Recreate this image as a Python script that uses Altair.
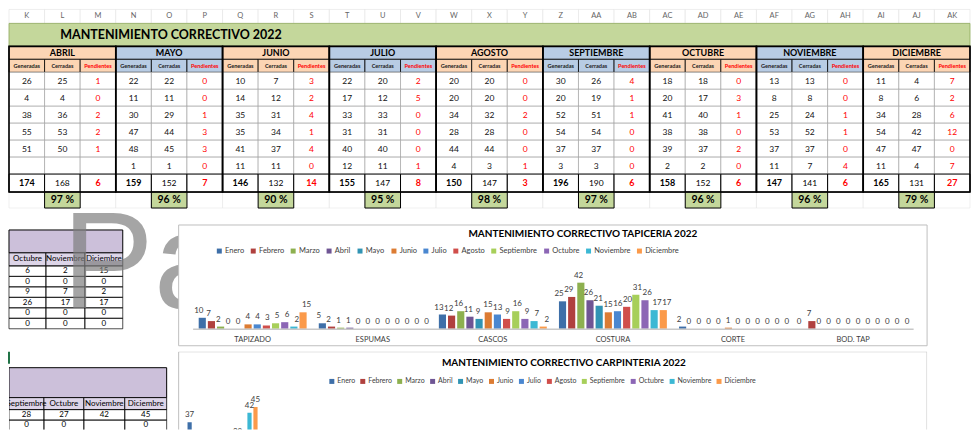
import altair as alt
import pandas as pd

FONT = "Lato"

# ---------------- data ----------------
col_letters = ["K", "L", "M", "N", "O", "P", "Q", "R", "S", "T", "U", "V", "W", "X",
               "Y", "Z", "AA", "AB", "AC", "AD", "AE", "AF", "AG", "AH", "AI", "AJ", "AK"]
table_title = "MANTENIMIENTO CORRECTIVO 2022"
table_months = ["ABRIL", "MAYO", "JUNIO", "JULIO", "AGOSTO", "SEPTIEMBRE",
                "OCTUBRE", "NOVIEMBRE", "DICIEMBRE"]
sub_headers = ["Generadas", "Cerradas", "Pendientes"]

generadas = [
    [26, 4, 38, 55, 51, None],
    [22, 11, 30, 47, 48, 1],
    [10, 14, 35, 35, 41, 11],
    [22, 17, 33, 31, 40, 12],
    [20, 20, 34, 28, 44, 4],
    [30, 20, 52, 54, 37, 3],
    [18, 20, 41, 38, 39, 2],
    [13, 8, 25, 53, 37, 11],
    [11, 8, 34, 54, 47, 11],
]
cerradas = [
    [25, 4, 36, 53, 50, None],
    [22, 11, 29, 44, 45, 1],
    [7, 12, 31, 34, 37, 11],
    [20, 12, 33, 31, 40, 11],
    [20, 20, 32, 28, 44, 3],
    [26, 19, 51, 54, 37, 3],
    [18, 17, 40, 38, 37, 2],
    [13, 8, 24, 52, 37, 7],
    [4, 6, 28, 42, 47, 4],
]
pendientes = [
    [1, 0, 2, 2, 1, None],
    [0, 0, 1, 3, 3, 0],
    [3, 2, 4, 1, 4, 0],
    [2, 5, 0, 0, 0, 1],
    [0, 0, 2, 0, 0, 1],
    [4, 1, 1, 0, 0, 0],
    [0, 3, 1, 0, 2, 0],
    [0, 0, 1, 1, 0, 4],
    [7, 2, 6, 12, 0, 7],
]
total_gen = [174, 159, 146, 155, 150, 196, 158, 147, 165]
total_cer = [168, 152, 132, 147, 147, 190, 152, 141, 131]
total_pen = [6, 7, 14, 8, 3, 6, 6, 6, 27]
pct_cerradas = ["97 %", "96 %", "90 %", "95 %", "98 %", "97 %", "96 %", "96 %", "79 %"]

chart_months = ["Enero", "Febrero", "Marzo", "Abril", "Mayo", "Junio", "Julio",
                "Agosto", "Septiembre", "Octubre", "Noviembre", "Diciembre"]
month_colors = ["#3e6fa8", "#b0413e", "#8db04f", "#6f5594", "#3194b4", "#dc7c33",
                "#4a87d0", "#d04e4b", "#a7cf5a", "#8c66b5", "#3cb8d4", "#fb9a4a"]

tap_title = "MANTENIMIENTO CORRECTIVO TAPICERIA 2022"
tap_categories = ["TAPIZADO", "ESPUMAS", "CASCOS", "COSTURA", "CORTE", "BOD. TAP"]
tapizado = [10, 7, 2, 0, 0, 4, 4, 3, 5, 6, 2, 15]
espumas = [5, 2, 1, 1, 0, 0, 0, 0, 0, 0, 0, 0]
cascos = [13, 12, 16, 11, 9, 15, 13, 9, 16, 9, 7, 2]
costura = [25, 29, 42, 26, 21, 15, 16, 20, 31, 26, 17, 17]
corte = [2, 0, 0, 0, 0, 1, 0, 0, 0, 0, 0, 0]
bod_tap = [0, 7, 0, 0, 0, 0, 0, 0, 0, 0, 0, 0]

carp_title = "MANTENIMIENTO CORRECTIVO CARPINTERIA 2022"
carp_months = ["Enero", "Marzo", "Septiembre", "Octubre", "Noviembre", "Diciembre"]
carp_values = [37, 26, 28, 27, 42, 45]

side1_months = ["Octubre", "Noviembre", "Diciembre"]
side1_rows = [[6, 2, 15], [0, 0, 0], [9, 7, 2], [26, 17, 17], [0, 0, 0], [0, 0, 0]]
side2_months = ["Septiembre", "Octubre", "Noviembre", "Diciembre"]
side2_rows = [[28, 27, 42, 45], [0, 0, None, 0], [7, 3, 2, 0]]

watermark_text = "Pa"

# ---------------- styles ----------------
PEACH = "#fcd5b4"
BLUE = "#b8cce4"
GREEN = "#c4d79b"
PURPLE = "#ccc0da"
PURPLE_L = "#ddd5e8"
RED = "#ff0000"


def fmt(v):
    return "" if v is None else str(v)


def grid_layers(rects, texts, xdom, xrange, ydom, yrange, clip=False):
    rdf = pd.DataFrame(rects)
    xs = alt.Scale(domain=xdom, range=xrange, nice=False, zero=False)
    ys = alt.Scale(domain=ydom, range=yrange, nice=False, zero=False)
    layers = [
        alt.Chart(rdf).mark_rect(clip=clip).encode(
            x=alt.X("x0:Q", scale=xs, axis=None), x2="x1:Q",
            y=alt.Y("y0:Q", scale=ys, axis=None), y2="y1:Q",
            fill=alt.Fill("fill:N", scale=None),
            stroke=alt.Stroke("stroke:N", scale=None),
            strokeWidth=alt.StrokeWidth("sw:Q", scale=None),
        )
    ]
    tdf = pd.DataFrame(texts)
    for bold in [False, True]:
        sub = tdf[tdf["bold"] == bold]
        if len(sub) == 0:
            continue
        layers.append(
            alt.Chart(sub).mark_text(font=FONT, fontWeight="bold" if bold else "normal",
                                     baseline="middle", align="center", clip=clip).encode(
                x=alt.X("xc:Q", scale=xs, axis=None),
                y=alt.Y("yc:Q", scale=ys, axis=None),
                text="t:N",
                color=alt.Color("color:N", scale=None),
                size=alt.Size("size:Q", scale=None),
            )
        )
    return layers


# ---------------- top table ----------------
TW, TH = 963, 210
row_heights = [14, 23, 13, 13, 17, 17, 17, 17, 17, 17, 18, 16]
edges = [0]
for hh in row_heights:
    edges.append(edges[-1] + hh)

rects, texts = [], []


def R(c0, c1, r0, r1, fill, stroke, sw):
    rects.append(dict(x0=c0, x1=c1, y0=edges[r0], y1=edges[r1], fill=fill, stroke=stroke, sw=sw))


def T(xc, r, t, color, size, bold):
    texts.append(dict(xc=xc, yc=(edges[r] + edges[r + 1]) / 2, t=t, color=color, size=size, bold=bold))


ncol = len(col_letters)
for i, L in enumerate(col_letters):
    R(i, i + 1, 0, 1, "#ffffff", "#e3e3e3", 0.6)
    T(i + 0.5, 0, L, "#666666", 7.5, False)
    R(i, i + 1, 11, 12, "#ffffff", "#e6e6e6", 0.6)
R(0, ncol, 1, 2, GREEN, "#8ea95a", 0.8)
T(4.55, 1, table_title, "#000000", 12.5, True)

outlines = []
for m, mname in enumerate(table_months):
    c = 3 * m
    fill = PEACH if m % 2 == 0 else BLUE
    R(c, c + 3, 2, 3, fill, "#000000", 1)
    T(c + 1.5, 2, mname, "#000000", 9, True)
    for k, sh in enumerate(sub_headers):
        R(c + k, c + k + 1, 3, 4, fill, "#000000", 0.8)
        T(c + k + 0.5, 3, sh, RED if k == 2 else "#1a1a1a", 5.6, True)
    for r in range(6):
        vals = [generadas[m][r], cerradas[m][r], pendientes[m][r]]
        for k, v in enumerate(vals):
            R(c + k, c + k + 1, 4 + r, 5 + r, "#ffffff", "#9a9a9a", 0.6)
            T(c + k + 0.5, 4 + r, fmt(v), RED if k == 2 else "#111111", 8.5, False)
    tv = [total_gen[m], total_cer[m], total_pen[m]]
    for k, v in enumerate(tv):
        R(c + k, c + k + 1, 10, 11, "#ffffff", "#000000", 1)
        T(c + k + 0.5, 10, str(v), RED if k == 2 else "#000000", 9 if k != 1 else 8.5, k != 1)
    R(c + 1, c + 2, 11, 12, GREEN, "#000000", 1)
    T(c + 1.5, 11, pct_cerradas[m], "#000000", 10.5, True)
    outlines.append(dict(x0=c, x1=c + 3, y0=edges[2], y1=edges[11], fill="transparent",
                         stroke="#000000", sw=1.6))
rects += outlines

table_chart = alt.layer(*grid_layers(rects, texts, [0, ncol], [0, TW], [0, TH], [0, TH])).properties(
    width=TW, height=TH)

# ---------------- row B: side table 1 + watermark + tapiceria chart ----------------
BW, BH = 920, 121
BOX_X = 170  # left edge of the chart box inside the row

s1_cols = [0, 37, 76, 114]
s1_rows = [41 + 10.5 * i for i in range(7)]
r1, t1 = [], []
r1.append(dict(x0=0, x1=114, y0=5, y1=28, fill=PURPLE, stroke="#000000", sw=1))
for k, mname in enumerate(side1_months):
    r1.append(dict(x0=s1_cols[k], x1=s1_cols[k + 1], y0=28, y1=41, fill=PURPLE_L, stroke="#000000", sw=0.8))
    t1.append(dict(xc=(s1_cols[k] + s1_cols[k + 1]) / 2, yc=34.5, t=mname, color="#000000", size=8, bold=False))
    for r, row in enumerate(side1_rows):
        y0, y1 = s1_rows[r], s1_rows[r + 1]
        r1.append(dict(x0=s1_cols[k], x1=s1_cols[k + 1], y0=y0, y1=y1, fill="transparent", stroke="#000000", sw=0.7))
        t1.append(dict(xc=(s1_cols[k] + s1_cols[k + 1]) / 2, yc=(y0 + y1) / 2, t=fmt(row[k]),
                       color="#000000", size=8, bold=False))

side1_layers = grid_layers(r1, t1, [0, 114], [0, 114], [0, BH], [0, BH])

watermark = alt.Chart(pd.DataFrame({"t": [watermark_text]})).mark_text(
    font="Liberation Sans", fontSize=138, color="#7f7f7f", opacity=0.7,
    align="left", baseline="alphabetic").encode(text="t:N", x=alt.value(53), y=alt.value(83))

box1 = alt.Chart(pd.DataFrame({"a": [0]})).mark_rect(fill="white", stroke="#bfbfbf", strokeWidth=1).encode(
    x=alt.value(BOX_X), x2=alt.value(BW), y=alt.value(0), y2=alt.value(BH))

tap_series = [tapizado, espumas, cascos, costura, corte, bod_tap]
tap_df = pd.DataFrame([(cat, mes, v) for cat, vals in zip(tap_categories, tap_series)
                       for mes, v in zip(chart_months, vals)], columns=["cat", "mes", "val"])

x1_scale = alt.Scale(domain=tap_categories, range=[BOX_X + 14, BOX_X + 736],
                     paddingInner=0.086, paddingOuter=0.043)
xo1 = alt.XOffset("mes:N", sort=chart_months,
                  scale=alt.Scale(domain=chart_months, paddingInner=0.22, paddingOuter=0.1))
y1 = alt.Y("val:Q", scale=alt.Scale(domain=[0, 50], range=[104, 49], nice=False), axis=None)

bars1 = alt.Chart(tap_df).mark_bar().encode(
    x=alt.X("cat:N", sort=tap_categories, scale=x1_scale,
            axis=alt.Axis(title=None, orient="bottom", offset=-17, domainColor="#c8c8c8", domainWidth=1.5,
                          ticks=False, labelFontSize=7.5, labelColor="#404040", labelPadding=7,
                          labelAngle=0, labelFont=FONT, zindex=2)),
    xOffset=xo1, y=y1,
    color=alt.Color("mes:N", sort=chart_months,
                    scale=alt.Scale(domain=chart_months, range=month_colors),
                    legend=alt.Legend(orient="none", legendX=BOX_X + 37, legendY=22, direction="horizontal",
                                      columns=12, title=None, symbolType="square", symbolSize=25,
                                      symbolStrokeWidth=0, labelFontSize=7.5, labelColor="#404040",
                                      labelFont=FONT, columnPadding=5, labelOffset=2))
)
labels1 = alt.Chart(tap_df).mark_text(dy=-7, fontSize=8, color="#404040", font=FONT).encode(
    x=alt.X("cat:N", sort=tap_categories, scale=x1_scale, axis=None),
    xOffset=xo1, y=y1, text="val:Q")
title1 = alt.Chart(pd.DataFrame({"t": [tap_title]})).mark_text(
    fontSize=10, fontWeight="bold", font=FONT, color="#000000").encode(
    text="t:N", x=alt.value(BOX_X + 405), y=alt.value(9))

rowB = alt.layer(*side1_layers, watermark, box1, bars1, labels1, title1).resolve_scale(
    x="independent", y="independent", xOffset="independent").properties(width=BW, height=BH)

# ---------------- row C: side table 2 + carpinteria chart ----------------
CH = 78
s2_cols = [0, 35, 75, 116, 158]
r2, t2 = [], []
r2.append(dict(x0=0, x1=158, y0=16, y1=46, fill=PURPLE, stroke="#000000", sw=1))
for k, mname in enumerate(side2_months):
    r2.append(dict(x0=s2_cols[k], x1=s2_cols[k + 1], y0=46, y1=58, fill=PURPLE_L, stroke="#000000", sw=0.8))
    t2.append(dict(xc=(s2_cols[k] + s2_cols[k + 1]) / 2, yc=52, t=mname, color="#000000", size=8, bold=False))
    for r, row in enumerate(side2_rows):
        y0 = 58 + 10.5 * r
        yb = y0 + 10.5
        r2.append(dict(x0=s2_cols[k], x1=s2_cols[k + 1], y0=y0, y1=yb, fill="transparent", stroke="#000000", sw=0.7))
        t2.append(dict(xc=(s2_cols[k] + s2_cols[k + 1]) / 2, yc=(y0 + yb) / 2, t=fmt(row[k]),
                       color="#000000", size=8, bold=False))
side2_layers = grid_layers(r2, t2, [0, 158], [0, 158], [0, CH], [0, CH], clip=True)

sel = alt.Chart(pd.DataFrame({"a": [0]})).mark_rule(color="#217346", strokeWidth=2).encode(
    x=alt.value(0), y=alt.value(0), y2=alt.value(12))
box2 = alt.Chart(pd.DataFrame({"a": [0]})).mark_rect(fill="white", stroke="#bfbfbf", strokeWidth=1,
                                                      clip=True).encode(
    x=alt.value(BOX_X), x2=alt.value(BW), y=alt.value(0), y2=alt.value(CH + 10))

carp_df = pd.DataFrame({"mes": carp_months, "val": carp_values})
x2_enc = alt.X("mes:N", scale=alt.Scale(domain=chart_months, range=[BOX_X + 8, BOX_X + 80],
                                        paddingInner=0.3, paddingOuter=0.15), axis=None)
y2_enc = alt.Y("val:Q", scale=alt.Scale(domain=[0, 50], range=[141, 46], nice=False), axis=None)
bars2 = alt.Chart(carp_df).mark_bar(clip=True).encode(
    x=x2_enc, y=y2_enc,
    color=alt.Color("mes:N", scale=alt.Scale(domain=chart_months, range=month_colors),
                    legend=alt.Legend(orient="none", legendX=BOX_X + 150, legendY=26, direction="horizontal",
                                      columns=12, title=None, symbolType="square", symbolSize=25,
                                      symbolStrokeWidth=0, labelFontSize=7, labelColor="#404040",
                                      labelFont=FONT, columnPadding=4, labelOffset=2))
)
labels2 = alt.Chart(carp_df).mark_text(dy=-7, fontSize=8, color="#404040", font=FONT, clip=True).encode(
    x=x2_enc, y=y2_enc, text="val:Q")
title2 = alt.Chart(pd.DataFrame({"t": [carp_title]})).mark_text(
    fontSize=10, fontWeight="bold", font=FONT, color="#000000").encode(
    text="t:N", x=alt.value(BOX_X + 386), y=alt.value(11))

rowC = alt.layer(*side2_layers, sel, box2, bars2, labels2, title2).resolve_scale(
    x="independent", y="independent").properties(width=BW, height=CH)

# ---------------- layout ----------------
chart = alt.vconcat(table_chart, rowB, rowC, spacing=6, bounds="flush").resolve_scale(
    color="independent").resolve_legend(color="independent").properties(padding=0).configure_view(stroke=None)

chart.save("out.html", embed_options={"renderer": "svg", "actions": False})
